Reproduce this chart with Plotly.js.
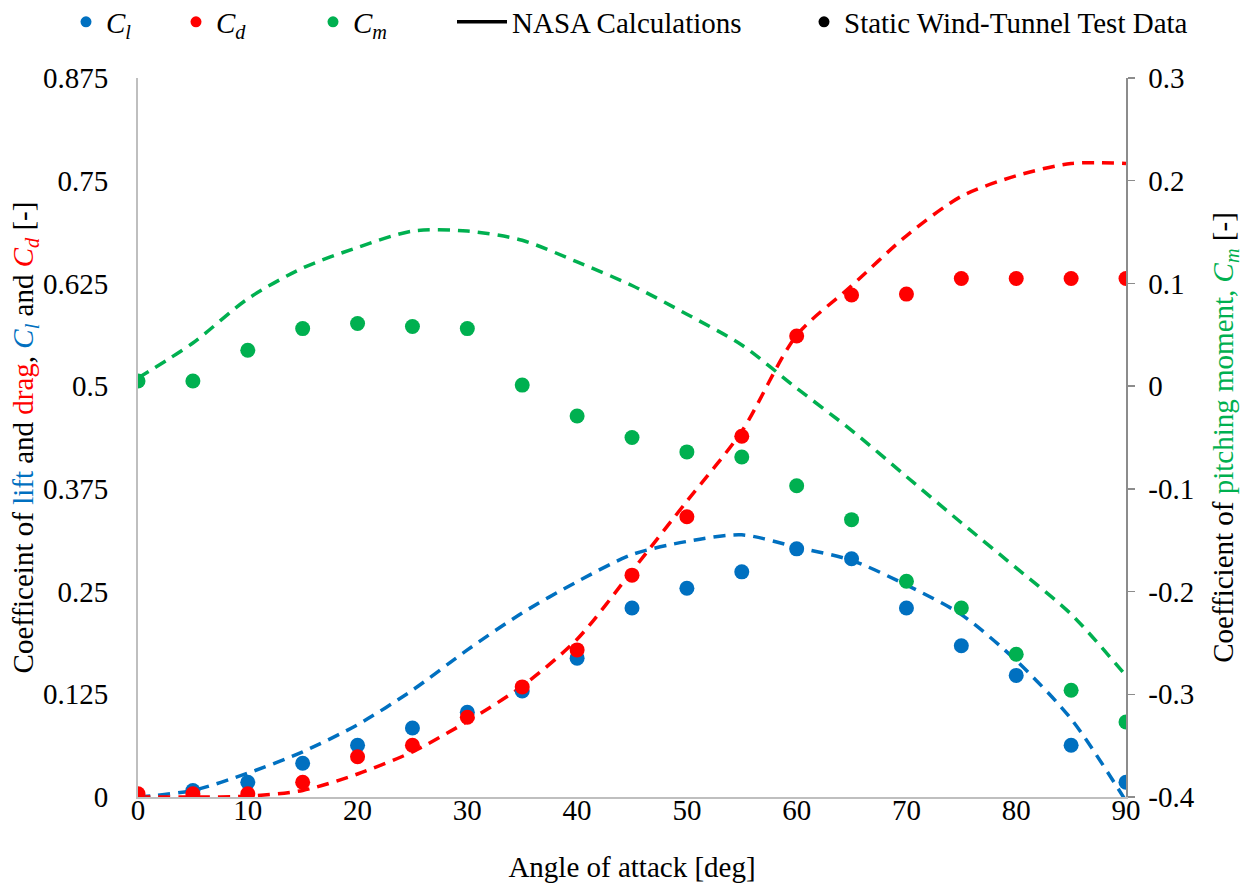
<!DOCTYPE html>
<html>
<head>
<meta charset="utf-8">
<script src="https://cdn.plot.ly/plotly-3.0.1.min.js"></script>
<style>html,body{margin:0;padding:0;background:#fff;}#chart{width:1246px;height:886px;}</style>
</head>
<body>
<div id="chart"></div>
<script>
// Angle of attack [deg]
const alpha = [0,5,10,15,20,25,30,35,40,45,50,55,60,65,70,75,80,85,90];

// Static wind-tunnel test data
const clTest = [0.000,0.008,0.018,0.041,0.063,0.084,0.103,0.129,0.169,0.230,0.254,0.274,0.302,0.290,0.230,0.184,0.148,0.063,0.018];
const cdTest = [0.004,0.004,0.004,0.018,0.049,0.063,0.097,0.134,0.179,0.270,0.341,0.439,0.561,0.611,0.612,0.631,0.631,0.631,0.631];
const cmTest = [0.005,0.005,0.035,0.056,0.061,0.058,0.056,0.001,-0.029,-0.050,-0.064,-0.069,-0.097,-0.130,-0.190,-0.216,-0.261,-0.296,-0.327];

// NASA calculations
const clNasa = [0.000,0.008,0.029,0.055,0.088,0.130,0.179,0.224,0.262,0.295,0.311,0.319,0.304,0.288,0.258,0.222,0.166,0.095,-0.005];
const cdNasa = [0.000,0.000,0.001,0.008,0.028,0.055,0.092,0.135,0.192,0.275,0.360,0.445,0.562,0.622,0.683,0.731,0.756,0.771,0.771];
const cmNasa = [0.008,0.042,0.085,0.115,0.135,0.151,0.151,0.142,0.121,0.098,0.070,0.040,-0.002,-0.043,-0.088,-0.133,-0.177,-0.222,-0.282];

// Axis ticks
const leftTickVals = [0,0.125,0.25,0.375,0.5,0.625,0.75,0.875];
const leftTickText = ['0','0.125','0.25','0.375','0.5','0.625','0.75','0.875'];
const rightTickVals = [-0.4,-0.3,-0.2,-0.1,0,0.1,0.2,0.3];
const rightTickText = ['-0.4','-0.3','-0.2','-0.1','0','0.1','0.2','0.3'];
const xTickVals = [0,10,20,30,40,50,60,70,80,90];

const BLUE = '#0070C0', RED = '#FF0000', GREEN = '#00B050';
const FONT = '"Liberation Serif", "Times New Roman", serif';
const FS = 29;
const dash = '12px,8px';

const traces = [
  {x: alpha, y: clNasa, mode: 'lines', line: {color: BLUE, width: 3.5, dash: dash, shape: 'spline', smoothing: 0.8}, showlegend: false, hoverinfo: 'skip'},
  {x: alpha, y: cdNasa, mode: 'lines', line: {color: RED, width: 3.5, dash: dash, shape: 'spline', smoothing: 0.8}, showlegend: false, hoverinfo: 'skip'},
  {x: alpha, y: cmNasa, yaxis: 'y2', mode: 'lines', line: {color: GREEN, width: 3.5, dash: dash, shape: 'spline', smoothing: 0.8}, showlegend: false, hoverinfo: 'skip'},
  {x: alpha, y: clTest, mode: 'markers', marker: {color: BLUE, size: 15}, showlegend: false},
  {x: alpha, y: cdTest, mode: 'markers', marker: {color: RED, size: 15}, showlegend: false},
  {x: alpha, y: cmTest, yaxis: 'y2', mode: 'markers', marker: {color: GREEN, size: 15}, showlegend: false},
  // legend entries
  {x: [null], y: [null], mode: 'markers', marker: {color: BLUE, size: 11}, name: '<i>C<sub>l</sub></i>', legend: 'legend'},
  {x: [null], y: [null], mode: 'markers', marker: {color: RED, size: 11}, name: '<i>C<sub>d</sub></i>', legend: 'legend2'},
  {x: [null], y: [null], mode: 'markers', marker: {color: GREEN, size: 11}, name: '<i>C<sub>m</sub></i>', legend: 'legend3'},
  {x: [null], y: [null], mode: 'lines', line: {color: '#000', width: 3.5}, name: 'NASA Calculations', legend: 'legend4'},
  {x: [null], y: [null], mode: 'markers', marker: {color: '#000', size: 11}, name: 'Static Wind-Tunnel Test Data', legend: 'legend5'}
];

function leg(xpx, iw) {
  return {x: xpx / 1246, xref: 'container', xanchor: 'left', y: 1 - 22 / 886, yref: 'container', yanchor: 'middle',
          orientation: 'h', bgcolor: 'rgba(0,0,0,0)', borderwidth: 0,
          font: {family: FONT, size: FS, color: '#000'}, itemwidth: iw || 30};
}

const layout = {
  width: 1246, height: 886,
  margin: {l: 138, r: 120, t: 78, b: 89, pad: 0},
  paper_bgcolor: '#fff', plot_bgcolor: '#fff',
  font: {family: FONT, size: FS, color: '#000'},
  xaxis: {
    range: [0, 90], tickvals: xTickVals, showgrid: false, zeroline: false,
    showline: true, linecolor: '#BFBFBF', linewidth: 2, ticks: '', ticklabelstandoff: -14,
    title: {text: 'Angle of attack [deg]', font: {family: FONT, size: FS}, standoff: 32}
  },
  yaxis: {
    range: [0, 0.875], tickvals: leftTickVals, ticktext: leftTickText, showgrid: false, zeroline: false,
    showline: true, linecolor: '#BFBFBF', linewidth: 2, ticks: '', ticklabelstandoff: 22,
    title: {text: 'Coefficeint of <span style="color:' + BLUE + '">lift</span> and <span style="color:' + RED + '">drag</span>, <i><span style="color:' + BLUE + '">C<sub>l</sub></span></i> and <i><span style="color:' + RED + '">C<sub>d</sub></span></i> [-]', font: {family: FONT, size: FS}, standoff: 0}
  },
  yaxis2: {
    range: [-0.4, 0.3], tickvals: rightTickVals, ticktext: rightTickText, overlaying: 'y', side: 'right',
    showgrid: false, zeroline: false, showline: true, linecolor: '#8C8C8C', linewidth: 1.5,
    ticks: 'outside', ticklen: 7, tickcolor: '#8C8C8C', tickwidth: 1.5, ticklabelstandoff: 8,
    title: {text: 'Coefficient of <span style="color:' + GREEN + '">pitching moment, <i>C<sub>m</sub></i></span> [-]', font: {family: FONT, size: FS}, standoff: 19}
  },
  legend: leg(66),
  legend2: leg(176),
  legend3: leg(313),
  legend4: leg(452, 50),
  legend5: leg(804),
  hovermode: false
};

Plotly.newPlot('chart', traces, layout, {displayModeBar: false, staticPlot: true});
</script>
</body>
</html>
